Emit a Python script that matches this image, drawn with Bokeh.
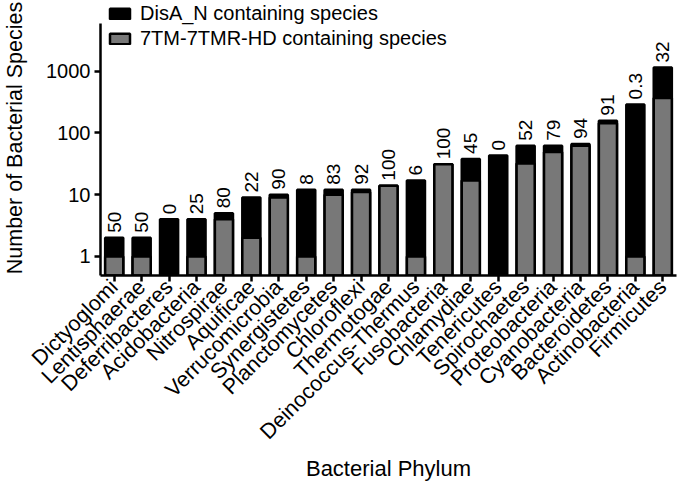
from math import pi
from bokeh.plotting import figure
from bokeh.models import (ColumnDataSource, Range1d, FixedTicker, Legend, LegendItem,
                          FactorRange, BasicTickFormatter)
from bokeh.core.properties import value
from bokeh.embed import file_html
from bokeh.resources import INLINE

# ---------------- data ----------------
phyla = ["Dictyoglomi", "Lentisphaerae", "Deferribacteres", "Acidobacteria", "Nitrospirae",
         "Aquificae", "Verrucomicrobia", "Synergistetes", "Planctomycetes", "Chloroflexi",
         "Thermotogae", "Deinococcus-Thermus", "Fusobacteria", "Chlamydiae", "Tenericutes",
         "Spirochaetes", "Proteobacteria", "Cyanobacteria", "Bacteroidetes", "Actinobacteria",
         "Firmicutes"]
disa_n_species = [2, 2, 4, 4, 5, 9, 10, 12, 12, 12, 14, 17, 31, 38, 43, 62, 62, 66, 158, 290, 1150]
tm7_species = [1, 1, 0, 1, 4, 2, 9, 1, 10, 11, 14, 1, 31, 17, 0, 32, 49, 62, 144, 1, 368]
percent_labels = ["50", "50", "0", "25", "80", "22", "90", "8", "83", "92", "100", "6", "100",
                  "45", "0", "52", "79", "94", "91", "0.3", "32"]
y_ticks = [1, 10, 100, 1000]
series_names = ["DisA_N containing species", "7TM-7TMR-HD containing species"]
x_title = "Bacterial Phylum"
y_title = "Number of Bacterial Species"

# ---------------- styling ----------------
FONT = "Liberation Sans"
GRAY = "#787878"
AXIS_START, AXIS_END = 0.49, 6000      # drawn extent of the y axis
VIEW_END = 14000                        # room above the axis for the legend

p = figure(x_range=FactorRange(factors=phyla, range_padding=0),
           y_range=Range1d(AXIS_START, VIEW_END), y_axis_type="log",
           width=680, height=484, output_backend="svg", toolbar_location=None,
           min_border_left=96, min_border_right=4, min_border_top=0, min_border_bottom=209)
p.title.visible = False

black_src = ColumnDataSource(dict(x=phyla, top=disa_n_species,
                                  bottom=[AXIS_START] * len(phyla), lab=percent_labels))
gx = [c for c, v in zip(phyla, tm7_species) if v > 0]
gt = [v for v in tm7_species if v > 0]
gray_src = ColumnDataSource(dict(x=gx, top=gt, bottom=[AXIS_START] * len(gx)))

r_black = p.vbar(x="x", top="top", bottom="bottom", width=0.66, source=black_src,
                 fill_color="black", line_color="black", line_width=2.5)
r_gray = p.vbar(x="x", top="top", bottom="bottom", width=0.66, source=gray_src,
                fill_color=GRAY, line_color="black", line_width=2.5)

p.text(x="x", y="top", text="lab", source=black_src, angle=pi / 2, y_offset=-5,
       text_align="left", text_baseline="middle", text_font=value(FONT),
       text_font_size="19px", text_color="black")

legend = Legend(items=[LegendItem(label=series_names[0], renderers=[r_black]),
                       LegendItem(label=series_names[1], renderers=[r_gray])],
                location=(7, 225), orientation="vertical",
                glyph_width=25, glyph_height=13, label_standoff=8, spacing=2,
                padding=0, margin=0, border_line_alpha=0, background_fill_alpha=0,
                label_text_font=FONT, label_text_font_size="20px", label_text_color="black")
p.add_layout(legend, "center")

p.xgrid.visible = False
p.ygrid.visible = False
p.outline_line_color = None

for ax in (p.xaxis, p.yaxis):
    ax.axis_line_width = 2.5
    ax.axis_line_color = "black"
    ax.major_tick_line_width = 2.5
    ax.major_tick_line_color = "black"
    ax.major_tick_out = 6
    ax.major_tick_in = 0
    ax.minor_tick_line_color = None
    ax.major_label_text_font = FONT
    ax.major_label_text_color = "black"
    ax.axis_label_text_font = FONT
    ax.axis_label_text_font_style = "normal"
    ax.axis_label_text_color = "black"

p.yaxis.bounds = (AXIS_START, AXIS_END)
p.yaxis.ticker = FixedTicker(ticks=y_ticks, minor_ticks=[])
p.yaxis.formatter = BasicTickFormatter(use_scientific=False)
p.yaxis.major_label_overrides = {t: str(t) for t in y_ticks}
p.yaxis.major_label_text_font_size = "20px"
p.yaxis.major_label_standoff = 4
p.yaxis.axis_label = y_title
p.yaxis.axis_label_text_font_size = "21.5px"
p.yaxis.axis_label_standoff = 16

p.xaxis.major_label_orientation = pi / 4
p.xaxis.major_label_text_font_size = "21.5px"
p.xaxis.major_label_standoff = 2
p.xaxis.axis_label = x_title
p.xaxis.axis_label_text_font_size = "22px"
p.xaxis.axis_label_standoff = 0

open("out.html", "w").write(file_html(p, INLINE))
